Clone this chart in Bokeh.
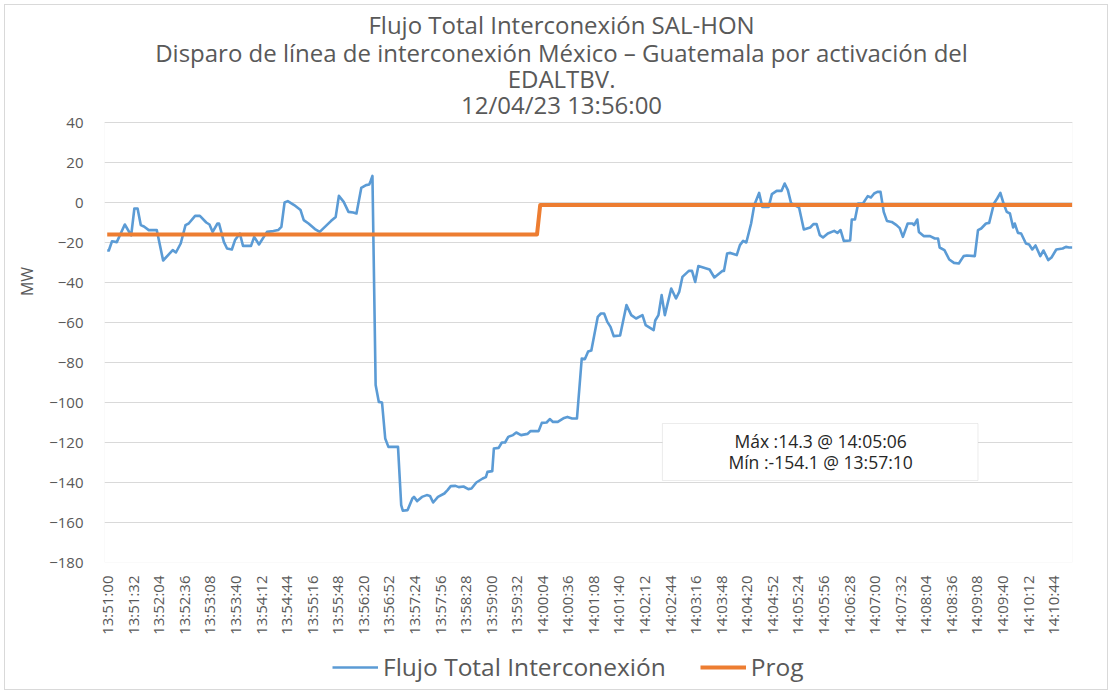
from bokeh.plotting import figure
from bokeh.layouts import column
from bokeh.models import (Range1d, FixedTicker, Legend, LegendItem, Label,
                          BoxAnnotation, ColumnDataSource)
from bokeh.core.properties import value
from bokeh.embed import file_html
from bokeh.resources import INLINE

# ---------------- data ----------------
title_lines = [
    "Flujo Total Interconexión SAL-HON",
    "Disparo de línea de interconexión México – Guatemala por activación del",
    "EDALTBV.",
    "12/04/23 13:56:00",
]
start_time = "13:51:00"
tick_labels = [
    "13:51:00", "13:51:32", "13:52:04", "13:52:36", "13:53:08", "13:53:40",
    "13:54:12", "13:54:44", "13:55:16", "13:55:48", "13:56:20", "13:56:52",
    "13:57:24", "13:57:56", "13:58:28", "13:59:00", "13:59:32", "14:00:04",
    "14:00:36", "14:01:08", "14:01:40", "14:02:12", "14:02:44", "14:03:16",
    "14:03:48", "14:04:20", "14:04:52", "14:05:24", "14:05:56", "14:06:28",
    "14:07:00", "14:07:32", "14:08:04", "14:08:36", "14:09:08", "14:09:40",
    "14:10:12", "14:10:44",
]
y_ticks = [-180, -160, -140, -120, -100, -80, -60, -40, -20, 0, 20, 40]

# Flujo Total Interconexión: seconds after 13:51:00, MW
flow_t = [
    0, 2, 6, 12, 22, 30, 34, 38, 42, 46, 52, 62, 70, 82, 86, 92, 98, 102, 110,
    116, 124, 128, 132, 138, 140, 146, 150, 156, 160, 166, 170, 180, 184, 190,
    200, 208, 214, 218, 222, 226, 234, 242, 246, 252, 260, 266, 280, 286, 290,
    296, 302, 308, 312, 318, 324, 328, 330, 332, 336, 340, 344, 348, 352, 364,
    368, 370, 376, 382, 384, 388, 394, 400, 404, 408, 414, 422, 426, 430, 436,
    440, 446, 452, 456, 462, 470, 474, 476, 482, 484, 490, 494, 498, 502, 508,
    512, 518, 526, 530, 540, 544, 550, 554, 558, 564, 572, 576, 582, 588, 594,
    598, 602, 606, 614, 618, 622, 626, 630, 634, 642, 650, 656, 662, 670, 674,
    684, 686, 690, 694, 698, 706, 712, 716, 720, 728, 732, 736, 740, 746, 754,
    760, 770, 772, 776, 780, 788, 792, 796, 800, 806, 810, 816, 820, 828, 832,
    838, 844, 848, 852, 856, 866, 872, 880, 884, 888, 892, 896, 902, 910, 914,
    918, 922, 930, 932, 936, 940, 946, 952, 956, 960, 964, 968, 972, 976, 982,
    988, 992, 996, 1002, 1008, 1010, 1014, 1016, 1022, 1030, 1036, 1040, 1042,
    1048, 1054, 1060, 1066, 1072, 1076, 1086, 1090, 1094, 1100, 1104, 1110,
    1114, 1118, 1122, 1126, 1130, 1134, 1136, 1140, 1144, 1150, 1154, 1158,
    1162, 1168, 1172, 1178, 1182, 1188, 1196, 1200, 1204, 1208,
]
flow_mw = [
    -24, -24, -19.4, -19.8, -11, -16.4, -3, -3, -11.3, -12, -13.8, -13.8, -29,
    -23.8, -25, -20.5, -11.3, -10.5, -6.7, -6.7, -10, -11, -14.7, -10.5, -10.5,
    -19.7, -23, -23.5, -18.8, -15.5, -21.7, -21.7, -17.2, -21, -14.7, -14.3,
    -13.8, -12.2, 0, 0.7, -1.3, -3.8, -8.8, -10.5, -13.3, -14.7, -9.3, -7.2,
    3.3, 0.3, -4.7, -5, -5.5, 7.3, 8.7, 9, 11, 13.3, -91.3, -99.7, -100, -118,
    -122.2, -122.2, -151.3, -154.1, -153.8, -148, -147.2, -149.3, -147.2,
    -146.3, -146.7, -150, -147.2, -145.5, -143.8, -141.8, -141.7, -142.3, -142,
    -143.3, -143, -140, -138, -137.3, -134.7, -134.3, -123, -122.7, -120, -120,
    -117.2, -116.3, -115, -116.3, -115.7, -114.3, -114.3, -110.2, -110, -108.3,
    -109.7, -109.7, -107.7, -107.2, -108, -108, -78, -78.3, -74.5, -74, -57.2,
    -55.5, -55.5, -59.7, -62.2, -66.8, -66.5, -51.3, -56.3, -58, -56.3, -61.3,
    -63.8, -59, -56.3, -46.3, -56.3, -43, -48, -44.7, -37.2, -34.2, -34.2,
    -39.7, -31.8, -32.5, -33.5, -37.5, -34.2, -34.2, -25.5, -25.2, -26.3,
    -21.3, -19.2, -20, -10.5, -1.3, 4.8, -2.2, -2.2, 4.2, 5.8, 5.8, 9.5, 6.2,
    -0.3, -2.5, -13.5, -12.5, -10.8, -10.8, -16.3, -17.5, -15.5, -14.2, -15.2,
    -13.8, -19.2, -19, -8.5, -8.5, -0.5, -0.5, 3.2, 2.5, 4.5, 5.3, 5.3, -4.7,
    -9.2, -9.7, -11.3, -12.8, -17.2, -10.5, -10.5, -11.3, -8.5, -14.7, -16.8,
    -16.8, -18, -18, -22.5, -23.8, -28.5, -30.2, -30.5, -26.8, -26.5, -26.8,
    -13.8, -13, -10.5, -10.2, -0.5, 2, 4.8, -0.5, -4.7, -5.5, -12.5, -10.5,
    -15.2, -15.5, -20.5, -21, -23.5, -21.5, -26.8, -24, -28.8, -27.5, -23.5,
    -23, -22.2, -22.5, -22.5,
]
# Prog (scheduled flow): seconds after 13:51:00, MW
prog_t = [0, 538, 542, 1208]
prog_mw = [-16, -16, -1.2, -1.2]

stats_lines = ["Máx :14.3 @ 14:05:06", "Mín :-154.1 @ 13:57:10"]


def to_sec(s):
    h, m, x = (int(v) for v in s.split(":"))
    return h * 3600 + m * 60 + x


t0 = to_sec(start_time)
tick_pos = [to_sec(s) - t0 for s in tick_labels]

FONT = "Open Sans"
GREY = "#595959"
BLUE = "#5B9BD5"
ORANGE = "#ED7D31"
W = 1112
X0, X1 = -3.4, 1208.3      # time axis extent (s)
Y0, Y1 = -180, 40          # value axis extent (MW)
Y_TOP = 101                # room above the plot area for the title (MW units)

# ---------------- main chart (title drawn in the space above the plot area) ----
p = figure(width=W, height=640, output_backend="svg", toolbar_location=None,
           x_range=Range1d(X0, X1), y_range=Range1d(Y0, Y_TOP),
           min_border_left=104, min_border_right=40, min_border_top=0,
           min_border_bottom=78)
p.outline_line_color = None
p.background_fill_alpha = 0
p.border_fill_alpha = 0
p.xgrid.visible = False
p.ygrid.grid_line_color = "#d9d9d9"
p.ygrid.grid_line_width = 1
p.ygrid.ticker = FixedTicker(ticks=y_ticks)

# plot-area border
p.add_layout(BoxAnnotation(left=X0, right=X1, top=Y1, bottom=Y0,
                           fill_alpha=0, line_color="#d9d9d9", line_width=1,
                           level="underlay"))

p.yaxis.ticker = FixedTicker(ticks=y_ticks)
p.xaxis.ticker = FixedTicker(ticks=tick_pos)
p.xaxis.major_label_overrides = {tp: lab for tp, lab in zip(tick_pos, tick_labels)}
p.xaxis.major_label_orientation = 1.5707963
for ax in (p.xaxis, p.yaxis):
    ax.axis_line_color = None
    ax.major_tick_line_color = None
    ax.minor_tick_line_color = None
    ax.major_label_text_font = FONT
    ax.major_label_text_color = GREY
    ax.major_label_text_font_size = "15px"
p.xaxis.major_label_standoff = 7
p.yaxis.major_label_standoff = 15
p.yaxis.axis_label = "MW"
p.yaxis.axis_label_text_font = FONT
p.yaxis.axis_label_text_font_style = "normal"
p.yaxis.axis_label_text_font_size = "16px"
p.yaxis.axis_label_text_color = GREY
p.yaxis.axis_label_standoff = 8

src_flow = ColumnDataSource(dict(t=flow_t, mw=flow_mw))
src_prog = ColumnDataSource(dict(t=prog_t, mw=prog_mw))
p.line("t", "mw", source=src_flow, line_color=BLUE, line_width=2.6,
       line_join="round")
p.line("t", "mw", source=src_prog, line_color=ORANGE, line_width=4,
       line_join="round")

# title (centred on the chart)
title_src = ColumnDataSource(dict(x=[568.7] * 4, y=[89, 75, 62, 49], text=title_lines))
p.text("x", "y", text="text", source=title_src, text_align="center",
       text_baseline="middle", text_font=value(FONT), text_font_size="24px",
       text_color=GREY)

# statistics box
p.add_layout(BoxAnnotation(left=695, right=1090, top=-110.5, bottom=-139,
                           fill_color="white", fill_alpha=1.0,
                           line_color="#bfbfbf", line_width=1))
for txt, yv in zip(stats_lines, [-119, -129.5]):
    p.add_layout(Label(x=893, y=yv, text=txt, text_align="center",
                       text_baseline="middle", text_font=FONT,
                       text_font_size="17.5px", text_color="#262626"))

# ---------------- legend strip ----------------
nan = float("nan")
pl = figure(width=W, height=54, output_backend="svg", toolbar_location=None,
            x_range=Range1d(0, 1), y_range=Range1d(0, 1),
            x_axis_type=None, y_axis_type=None,
            min_border_left=104, min_border_right=40, min_border_top=0,
            min_border_bottom=0, outline_line_color=None)
pl.background_fill_alpha = 0
pl.border_fill_alpha = 0
pl.grid.visible = False
lf = pl.line(x=[nan], y=[nan], line_color=BLUE, line_width=2.6)
lp = pl.line(x=[nan], y=[nan], line_color=ORANGE, line_width=4)
legend = Legend(items=[LegendItem(label="Flujo Total Interconexión", renderers=[lf]),
                       LegendItem(label="Prog", renderers=[lp])],
                orientation="horizontal", location=(228, 11),
                label_text_font=FONT, label_text_font_size="24.5px",
                label_text_color=GREY, glyph_width=46, glyph_height=20,
                label_standoff=5, spacing=34, border_line_color=None,
                background_fill_alpha=0, margin=0, padding=6)
pl.add_layout(legend)

layout = column(p, pl, spacing=0)
layout.styles = {"outline": "1px solid #d9d9d9", "outline-offset": "-5px",
                 "background-color": "white"}
open("out.html", "w").write(file_html(layout, INLINE))
